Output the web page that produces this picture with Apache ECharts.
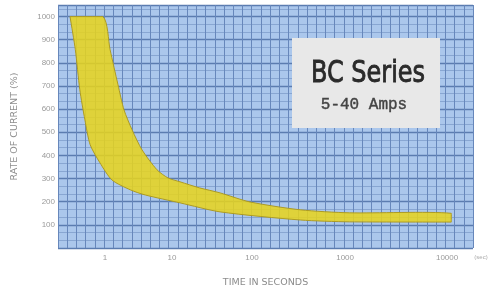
<!DOCTYPE html>
<html>
<head>
<meta charset="utf-8">
<script src="https://cdn.jsdelivr.net/npm/echarts@6/dist/echarts.min.js"></script>
<style>
  html, body { margin: 0; padding: 0; background: #fff; }
  #chart { width: 495px; height: 287px; }
</style>
</head>
<body>
<div id="chart"></div>
<script>
// decade tick labels on the time axis
var timeTicks = [1, 10, 100, 1000, 10000];
var tickLabels = ['1', '10', '100', '1000', '10000'];

// upper edge of the band (time in s, rate in %)
var upperTime = [0.30, 0.93, 1.19, 1.56, 1.92, 2.53, 3.57, 5.97, 8.7, 12.6, 22, 40, 94, 330, 1100, 11000];
var upperRate = [1000, 1000, 857, 706, 597, 511, 424, 338, 303, 286, 260, 238, 199, 165, 152, 150];

// lower edge of the band
var lowerTime = [0.30, 0.36, 0.42, 0.50, 0.60, 0.84, 1.27, 2.4, 4.0, 12.6, 40, 330, 1100, 11000];
var lowerRate = [1000, 857, 684, 554, 446, 368, 294, 251, 229, 195, 156, 121, 113, 112];

// the printed time axis is not an even log scale: where each decade sits, in grid columns
var decadeCols = [5.1, 12.36, 21.04, 31.13, 42.19];

function toCol(t) {
  var d = Math.log10(t);
  var k = Math.floor(d);
  if (k < 0) k = 0;
  if (k > decadeCols.length - 2) k = decadeCols.length - 2;
  return decadeCols[k] + (d - k) * (decadeCols[k + 1] - decadeCols[k]);
}

var chart = echarts.init(document.getElementById('chart'));

var option = {
  animation: false,
  backgroundColor: '#fff',
  grid: {
    left: 58,
    right: 22,
    top: 5,
    bottom: 39,
    outerBoundsMode: 'none',
    show: true,
    backgroundColor: '#abc7ec',
    borderWidth: 0
  },
  xAxis: {
    type: 'value',
    min: 0,
    max: 45,
    interval: 1,
    name: 'TIME IN SECONDS',
    nameLocation: 'middle',
    nameGap: 30,
    nameTextStyle: { color: '#8c8c8c', fontSize: 9.5, fontFamily: 'DejaVu Sans' },
    axisLine: { show: false },
    axisTick: { show: false },
    axisLabel: {
      customValues: timeTicks.map(toCol),
      formatter: function (v) {
        for (var i = 0; i < timeTicks.length; i++) {
          if (Math.abs(toCol(timeTicks[i]) - v) < 0.01) return tickLabels[i];
        }
        return '';
      },
      color: '#9a9a9a',
      fontSize: 8,
      margin: 6
    },
    splitLine: { lineStyle: { color: '#6787bb', width: 1 } }
  },
  yAxis: {
    type: 'value',
    min: 0,
    max: 1050,
    interval: 100,
    name: 'RATE OF CURRENT (%)',
    nameLocation: 'middle',
    nameRotate: 90,
    nameGap: 38,
    nameTextStyle: { color: '#8c8c8c', fontSize: 9.5, fontFamily: 'DejaVu Sans' },
    axisLine: { show: false },
    axisTick: { show: false },
    axisLabel: {
      formatter: function (v) { return (v > 0 && v % 100 === 0) ? v : ''; },
      color: '#9a9a9a',
      fontSize: 8,
      margin: 3
    },
    splitLine: { lineStyle: { color: '#5b7cb0', width: 1.3 } },
    minorTick: { show: false, splitNumber: 3 },
    minorSplitLine: { show: true, lineStyle: { color: '#88a6d2', width: 1 } }
  },
  series: [{
    type: 'custom',
    data: [[0, 0]],
    renderItem: function (params, api) {
      var top = upperTime.map(function (t, i) { return api.coord([toCol(t), upperRate[i]]); });
      var bottom = lowerTime.map(function (t, i) { return api.coord([toCol(t), lowerRate[i]]); }).reverse();
      var pts = top.concat(bottom);
      var xs = pts.map(function (p) { return p[0]; });
      var ys = pts.map(function (p) { return p[1]; });
      var box = [[Math.min.apply(null, xs), Math.min.apply(null, ys)], [Math.max.apply(null, xs), Math.max.apply(null, ys)]];
      return {
        type: 'polygon',
        shape: { points: pts, smooth: 0.25, smoothConstraint: box },
        style: { fill: 'rgba(232,212,28,0.86)', stroke: '#ad9b24', lineWidth: 1 }
      };
    }
  }],
  graphic: [
    {
      type: 'rect',
      z: 100,
      shape: { x: 292, y: 38, width: 148, height: 90 },
      style: { fill: '#e8e8e8' }
    },
    {
      type: 'text',
      z: 101,
      x: 368, y: 74,
      scaleX: 0.8,
      style: {
        text: 'BC Series',
        font: '30px "DejaVu Sans"',
        fill: '#2a2a2a',
        stroke: '#2a2a2a',
        lineWidth: 0.9,
        textAlign: 'center',
        textVerticalAlign: 'middle'
      }
    },
    {
      type: 'text',
      z: 101,
      x: 364, y: 105,
      style: {
        text: '5-40 Amps',
        font: '16px "Liberation Mono"',
        fill: '#444',
        stroke: '#444',
        lineWidth: 0.4,
        textAlign: 'center',
        textVerticalAlign: 'middle'
      }
    },
    {
      type: 'text',
      z: 101,
      x: 481, y: 257,
      style: {
        text: '(sec)',
        font: '6px "Liberation Sans"',
        fill: '#aaa',
        textAlign: 'center',
        textVerticalAlign: 'middle'
      }
    }
  ]
};

chart.setOption(option);
</script>
</body>
</html>
